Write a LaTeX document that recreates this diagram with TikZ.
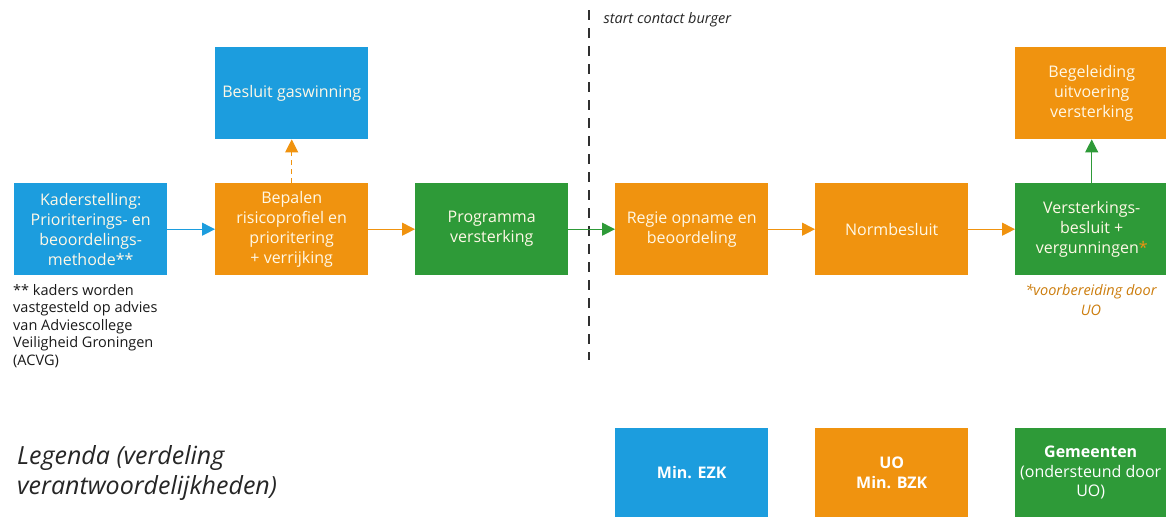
\documentclass[tikz,border=0pt]{standalone}
\usepackage{fontspec}
\setmainfont{Open Sans}
\usetikzlibrary{arrows.meta}
\definecolor{cblue}{HTML}{1C9DDE}
\definecolor{corange}{HTML}{F0930F}
\definecolor{cgreen}{HTML}{2E9A38}
\definecolor{ctext}{HTML}{FFF8E6}
\definecolor{cdash}{HTML}{303030}
\tikzset{
  box/.style={draw=none, minimum width=153pt, minimum height=92pt, align=center,
    text=ctext, font=\fontsize{16}{20}\selectfont, inner sep=2pt, anchor=north west},
  bluebox/.style={box, fill=cblue},
  orangebox/.style={box, fill=corange},
  greenbox/.style={box, fill=cgreen},
  legbox/.style={draw=none, align=center, text=white, font=\fontsize{16}{19.5}\selectfont, anchor=north west, minimum height=89pt, minimum width=153pt},
  conn/.style={line width=1pt, -{Triangle[length=13pt,width=13pt]}},
}
\begin{document}
\begin{tikzpicture}[x=1pt,y=-1pt]
\useasboundingbox (0,0) rectangle (1166,517);
\fill[white] (0,0) rectangle (1166,517);
% divider
\coordinate (dtop) at (589,10);
\coordinate (dbot) at (589,360);
\draw[cdash, line width=2pt, dash pattern=on 10pt off 8pt] (dtop) -- (dbot);
\node[anchor=west, font=\itshape\fontsize{14.5}{17}\selectfont, text=black!85] (start) at (600,20) {start contact burger};
% boxes
\node[bluebox] (kader) at (14,183) {Kaderstelling:\\Prioriterings- en\\beoordelings-\\methode**};
\node[orangebox] (bepalen) at (215,183) {Bepalen\\risicoprofiel en\\prioritering\\+ verrijking};
\node[bluebox] (besluit) at (215,47) {Besluit gaswinning};
\node[greenbox] (prog) at (415,183) {Programma\\versterking};
\node[orangebox] (regie) at (615,183) {Regie opname en\\beoordeling};
\node[orangebox] (norm) at (815,183) {Normbesluit};
\node[greenbox] (verst) at (1015,183) {Versterkings-\\besluit +\\vergunningen\textcolor{corange}{*}};
\node[orangebox] (begel) at (1015,47) {Begeleiding\\uitvoering\\versterking};
% connectors
\draw[conn, cblue] (kader) -- (bepalen);
\draw[conn, corange] (bepalen) -- (prog);
\draw[conn, cgreen] (prog) -- (regie);
\draw[conn, corange] (regie) -- (norm);
\draw[conn, corange] (norm) -- (verst);
\draw[conn, corange, dash pattern=on 5pt off 4pt] (bepalen) -- (besluit);
\draw[conn, cgreen] (verst) -- (begel);
% notes
\node[anchor=north west, align=left, font=\fontsize{14.5}{17.5}\selectfont, text=black!90, inner sep=0pt] (note) at (13,284) {** kaders worden\\vastgesteld op advies\\van Adviescollege\\Veiligheid Groningen\\(ACVG)};
\node[anchor=north, align=center, font=\itshape\fontsize{14.5}{20}\selectfont, text=corange!85!black, inner sep=0pt] (vb) at (1091,284) {*voorbereiding door\\UO};
% legend
\node[anchor=north west, align=left, font=\itshape\fontsize{25}{30}\selectfont, text=black!85, inner sep=0pt] (leg) at (17,445) {Legenda (verdeling\\verantwoordelijkheden)};
\node[legbox, fill=cblue] (ezk) at (615,428) {\bfseries Min. EZK};
\node[legbox, fill=corange] (uo) at (815,428) {\bfseries UO\\\bfseries Min. BZK};
\node[legbox, fill=cgreen, minimum width=151pt] (gem) at (1015,428) {\bfseries Gemeenten\\(ondersteund door\\UO)};
\end{tikzpicture}
\end{document}
